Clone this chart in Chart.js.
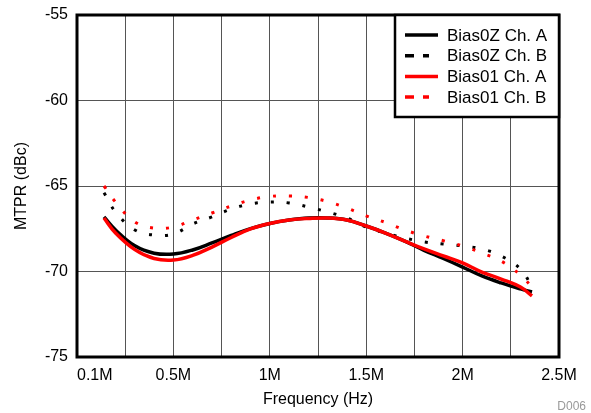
<!DOCTYPE html>
<html><head><meta charset="utf-8">
<script src="https://cdn.jsdelivr.net/npm/chart.js@4/dist/chart.umd.min.js"></script>
<style>html,body{margin:0;padding:0;background:#fff}#wrap{width:591px;height:413px}</style>
</head><body><div id="wrap"><canvas id="c" width="591" height="413"></canvas></div>
<script>
// Frequency in MHz
const freqMHz = [0.14,0.2,0.3,0.4,0.5,0.6,0.7,0.8,0.9,1.0,1.1,1.2,1.3,1.4,1.5,1.6,1.7,1.8,1.9,2.0,2.1,2.2,2.3,2.36];
const bias0zA = [-66.81,-67.57,-68.50,-68.93,-68.98,-68.74,-68.33,-67.89,-67.49,-67.19,-66.99,-66.87,-66.87,-66.99,-67.34,-67.75,-68.22,-68.76,-69.24,-69.74,-70.26,-70.67,-71.02,-71.20];
const bias0zB = [-65.40,-66.52,-67.57,-67.87,-67.81,-67.22,-66.81,-66.35,-66.05,-65.94,-65.99,-66.23,-66.52,-66.87,-67.40,-67.75,-68.04,-68.27,-68.39,-68.51,-68.68,-69.09,-69.85,-70.90];
const bias01A = [-66.87,-67.75,-68.72,-69.24,-69.33,-69.06,-68.57,-68.01,-67.51,-67.19,-66.99,-66.90,-66.87,-66.99,-67.34,-67.75,-68.22,-68.68,-69.09,-69.50,-70.03,-70.44,-70.91,-71.43];
const bias01B = [-65.00,-65.94,-67.10,-67.46,-67.40,-66.99,-66.58,-66.17,-65.82,-65.61,-65.58,-65.67,-65.91,-66.29,-66.75,-67.13,-67.57,-67.92,-68.20,-68.51,-68.92,-69.39,-70.20,-70.91];
const seriesNames = ['Bias0Z Ch. A','Bias0Z Ch. B','Bias01 Ch. A','Bias01 Ch. B'];
const xTickLabels = ['0.1M','0.5M','1M','1.5M','2M','2.5M'];
const yTickValues = [-75,-70,-65,-60,-55];

const FONT = '"Liberation Sans", Arial, Helvetica, sans-serif';
const pts = arr => freqMHz.map((f,i)=>({x:f*1e6, y:arr[i]}));

const styles = [
  {color:'#000000', dash:[]},
  {color:'#000000', dash:[3,13]},
  {color:'#ff0000', dash:[]},
  {color:'#ff0000', dash:[3,13]}
];
const allSeries = [bias0zA, bias0zB, bias01A, bias01B];
const orders = [2,3,0,1];

const decor = {
  id:'decor',
  afterDraw(chart){
    const {ctx, chartArea:a} = chart;
    ctx.save();
    ctx.fillStyle = '#000';
    ctx.font = '16px ' + FONT;
    ctx.textAlign = 'left'; ctx.textBaseline = 'middle';
    ctx.fillText(xTickLabels[0], a.left, a.bottom + 9 + 9.6);
    ctx.strokeStyle = '#000'; ctx.lineWidth = 3;
    ctx.strokeRect(a.left, a.top, a.right - a.left, a.bottom - a.top);
    const lw = 164, lh = 102;
    const lx = a.right - lw, ly = a.top;
    ctx.fillStyle = '#fff'; ctx.fillRect(lx, ly, lw, lh);
    ctx.lineWidth = 2.5; ctx.strokeRect(lx, ly, lw, lh);
    ctx.font = '17px ' + FONT;
    seriesNames.forEach((name,i)=>{
      const y = ly + 20 + i*20.7;
      ctx.strokeStyle = styles[i].color; ctx.lineWidth = 3.5; ctx.lineCap = 'butt';
      ctx.beginPath();
      if (styles[i].dash.length){
        ctx.moveTo(lx+10,y); ctx.lineTo(lx+19,y);
        ctx.moveTo(lx+28,y); ctx.lineTo(lx+34,y);
      } else { ctx.moveTo(lx+10,y); ctx.lineTo(lx+43,y); }
      ctx.stroke();
      ctx.fillStyle = '#000'; ctx.textAlign='left'; ctx.textBaseline='middle';
      ctx.fillText(name, lx+52, y+1);
    });
    ctx.fillStyle = '#999'; ctx.font = '12px ' + FONT;
    ctx.textAlign = 'right'; ctx.textBaseline = 'alphabetic';
    ctx.fillText('D006', 586, 410);
    ctx.restore();
  }
};

new Chart(document.getElementById('c'), {
  type:'line',
  data:{
    datasets: allSeries.map((arr,i)=>({
      label: seriesNames[i],
      data: pts(arr),
      borderColor: styles[i].color,
      backgroundColor: styles[i].color,
      borderWidth: styles[i].dash.length ? 3 : 3.5,
      borderDash: styles[i].dash,
      borderCapStyle:'butt',
      pointRadius:0,
      tension:0.4,
      fill:false,
      order: orders[i]
    }))
  },
  options:{
    responsive:false,
    animation:false,
    events:[],
    layout:{padding:{left:0,right:32,top:15,bottom:4}},
    plugins:{legend:{display:false}, tooltip:{enabled:false}},
    scales:{
      x:{
        type:'linear', min:0, max:2.5e6,
        afterFit(s){ s.height = 52; },
        grid:{color:'#555', lineWidth:1, drawTicks:false},
        border:{display:false},
        ticks:{
          stepSize:250000, autoSkip:false, maxRotation:0, padding:9,
          color:'#000', font:{family:FONT, size:16},
          callback(v){
            const k = Math.round(v/500000);
            if (Math.abs(v - k*500000) > 1 || k === 0) return '';
            return xTickLabels[k];
          }
        },
        title:{display:true, text:'Frequency (Hz)', color:'#000', font:{family:FONT, size:16}, padding:{top:0,bottom:0}}
      },
      y:{
        min:-75, max:-55,
        afterFit(s){ s.width = 77; },
        afterBuildTicks(s){ s.ticks = yTickValues.map(v=>({value:v})); },
        grid:{color:'#555', lineWidth:1, drawTicks:false},
        border:{display:false},
        ticks:{padding:9, color:'#000', font:{family:FONT, size:16, lineHeight:0.7}},
        title:{display:true, text:'MTPR (dBc)', color:'#000', font:{family:FONT, size:16}, padding:{top:12,bottom:0}}
      }
    }
  },
  plugins:[decor]
});
</script></body></html>
